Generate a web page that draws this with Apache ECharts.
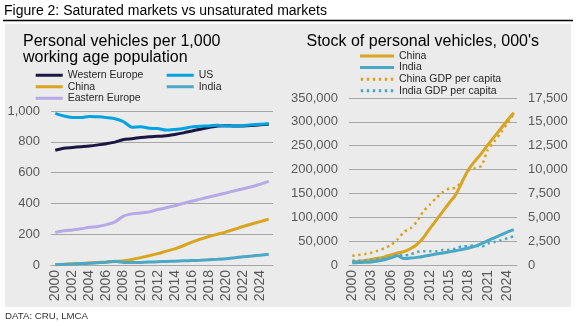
<!DOCTYPE html>
<html>
<head>
<meta charset="utf-8">
<script src="https://cdn.jsdelivr.net/npm/echarts@6/dist/echarts.min.js"></script>
<style>
  html, body { margin: 0; padding: 0; background: #fff; }
  #chart { width: 579px; height: 326px; }
</style>
</head>
<body>
<div id="chart"></div>
<script>
// Years shown on both category axes
const years = ['2000','2001','2002','2003','2004','2005','2006','2007','2008','2009',
               '2010','2011','2012','2013','2014','2015','2016','2017','2018','2019',
               '2020','2021','2022','2023','2024','2025'];

// Personal vehicles per 1,000 working age population
const westernEurope = [745,758,763,768,773,780,788,798,815,820,828,833,836,840,848,858,870,882,893,903,905,902,903,906,910,914];
const us            = [985,968,958,957,965,962,957,950,930,895,898,888,886,876,880,886,897,901,903,908,902,903,906,910,914,917];
const chinaPer1000  = [3,5,8,10,13,16,19,23,28,36,48,60,74,90,105,125,148,168,185,200,215,232,250,266,282,298];
const indiaPer1000  = [2,4,6,9,12,15,18,24,17,16,17,19,21,23,25,27,29,31,34,37,41,47,53,58,64,70];
const easternEurope = [212,222,228,235,245,250,262,280,318,332,338,345,360,372,385,400,415,428,442,455,468,482,495,508,525,543];

// Stock of personal vehicles (000's) and GDP per capita
const chinaStock = [7000,8000,9500,11500,14000,17000,21000,25000,28000,34000,43000,57000,76000,94000,112000,130000,147000,174000,200000,218000,234000,252000,269000,286000,303000,319000];
const indiaStock = [4500,5000,5500,6500,8500,11000,15000,19500,13500,14500,16000,18000,20500,23000,25000,27500,30000,32500,35500,39000,45000,51000,57000,63000,69000,74000];
const chinaGdp   = [959,1053,1149,1289,1509,1753,2099,2694,3468,3832,4550,5614,6301,7020,7636,8016,8094,8817,9905,10144,10409,12100,12950,13850,14850,15800];
const indiaGdp   = [443,452,471,546,627,714,806,1028,999,1102,1358,1450,1434,1438,1560,1590,1714,1958,1974,2050,1913,2250,2410,2600,2800,3000];

const FONT = '"Liberation Sans", Arial, sans-serif';
const GRID_GRAY = '#a6a6a6';
const LABEL = '#595959';
const C = {
  we: '#1b1642', us: '#00a3e0', china: '#d9a520', india: '#4aa8c6', ee: '#b5a9e6'
};
const fmt = v => v.toLocaleString('en-US');

// Legend icons: a solid bar and a row of square dots
const SOLID = 'rect';
const DOTS = 'path://M0,0h2.5v3h-2.5z M6,0h2.5v3h-2.5z M12,0h2.5v3h-2.5z M18,0h2.5v3h-2.5z M24,0h2.5v3h-2.5z M30,0h2.5v3h-2.5z';

const chart = echarts.init(document.getElementById('chart'), null, { renderer: 'canvas' });

function line(name, data, color, xi, yi, extra) {
  return Object.assign({
    name, type: 'line', data, xAxisIndex: xi, yAxisIndex: yi,
    symbol: 'none', smooth: 0.25,
    lineStyle: { color, width: 3 }, itemStyle: { color },
    emphasis: { disabled: true }
  }, extra || {});
}
const dotted = { type: [2.5, 3.5], cap: 'butt' };

const xCommon = (interval) => ({
  type: 'category', data: years, boundaryGap: true,
  axisLine: { lineStyle: { color: GRID_GRAY } },
  axisTick: { interval: 0, length: 5, lineStyle: { color: GRID_GRAY } },
  axisLabel: { interval, rotate: 90, fontSize: 14, color: LABEL, margin: 5, fontFamily: FONT }
});
const yCommon = (min, max, interval, split) => ({
  type: 'value', min, max, interval,
  axisLine: { show: false }, axisTick: { show: false },
  splitLine: { show: split, lineStyle: { color: GRID_GRAY, width: 1 } },
  axisLabel: { formatter: fmt, fontSize: 13, color: LABEL, margin: 11, fontFamily: FONT }
});
const legendText = { fontSize: 10.5, lineHeight: 11.5, color: '#262626', fontFamily: FONT };
const item = (name, icon, color) => ({ name, icon, itemStyle: { color } });

chart.setOption({
  animation: false,
  textStyle: { fontFamily: FONT },
  graphic: [
    { type: 'rect', z: -10, shape: { x: 5, y: 24, width: 566, height: 283 }, style: { fill: '#ebebeb' } },
    { type: 'line', z: -5, shape: { x1: 3, y1: 20.5, x2: 573, y2: 20.5 }, style: { stroke: '#000', lineWidth: 1.5 } },
    { type: 'text', left: 4, top: 4, style: { text: 'Figure 2: Saturated markets vs unsaturated markets', font: '14px ' + FONT, fill: '#000' } },
    { type: 'text', left: 5, top: 311, style: { text: 'DATA: CRU, LMCA', font: '9.7px ' + FONT, fill: '#333' } }
  ],
  title: [
    { text: 'Personal vehicles per 1,000\nworking age population', left: 23, top: 34, padding: 0,
      textStyle: { fontSize: 16, lineHeight: 16, fontWeight: 'normal', color: '#000', fontFamily: FONT } },
    { text: "Stock of personal vehicles, 000's", left: 306.5, top: 34, padding: 0,
      textStyle: { fontSize: 16, lineHeight: 16, fontWeight: 'normal', color: '#000', fontFamily: FONT } }
  ],
  legend: [
    { left: 35.7, top: 69.5, orient: 'vertical', itemGap: 0, itemWidth: 27, itemHeight: 3, padding: 0,
      selectedMode: false, textStyle: legendText,
      data: [item('Western Europe', SOLID, C.we), item('China', SOLID, C.china), item('Eastern Europe', SOLID, C.ee)] },
    { left: 166.7, top: 69.5, orient: 'vertical', itemGap: 0, itemWidth: 27, itemHeight: 3, padding: 0,
      selectedMode: false, textStyle: legendText,
      data: [item('US', SOLID, C.us), item('India', SOLID, C.india)] },
    { left: 360, top: 50.2, orient: 'vertical', itemGap: 0, itemWidth: 34, itemHeight: 3, padding: 0,
      selectedMode: false, textStyle: Object.assign({}, legendText, { lineHeight: 11.6 }),
      data: [item('China', SOLID, C.china), item('India', SOLID, C.india),
             item('China GDP per capita', DOTS, C.china), item('India GDP per capita', DOTS, C.india)] }
  ],
  grid: [
    { left: 51, top: 111, width: 222, height: 154 },
    { left: 349, top: 98, width: 168, height: 167 }
  ],
  xAxis: [
    Object.assign({ gridIndex: 0 }, xCommon(1)),
    Object.assign({ gridIndex: 1 }, xCommon(2))
  ],
  yAxis: [
    Object.assign({ gridIndex: 0 }, yCommon(0, 1000, 200, true)),
    Object.assign({ gridIndex: 1 }, yCommon(0, 350000, 50000, true)),
    Object.assign({ gridIndex: 1, position: 'right' }, yCommon(0, 17500, 2500, false))
  ],
  series: [
    line('Western Europe', westernEurope, C.we, 0, 0),
    line('US', us, C.us, 0, 0),
    line('China', chinaPer1000, C.china, 0, 0),
    line('India', indiaPer1000, C.india, 0, 0),
    line('Eastern Europe', easternEurope, C.ee, 0, 0),

    line('China', chinaStock, C.china, 1, 1),
    line('India', indiaStock, C.india, 1, 1),
    line('China GDP per capita', chinaGdp, C.china, 1, 2,
         { lineStyle: Object.assign({ color: C.china, width: 2.5 }, dotted) }),
    line('India GDP per capita', indiaGdp, C.india, 1, 2,
         { lineStyle: Object.assign({ color: C.india, width: 2.5 }, dotted) })
  ]
});
</script>
</body>
</html>
